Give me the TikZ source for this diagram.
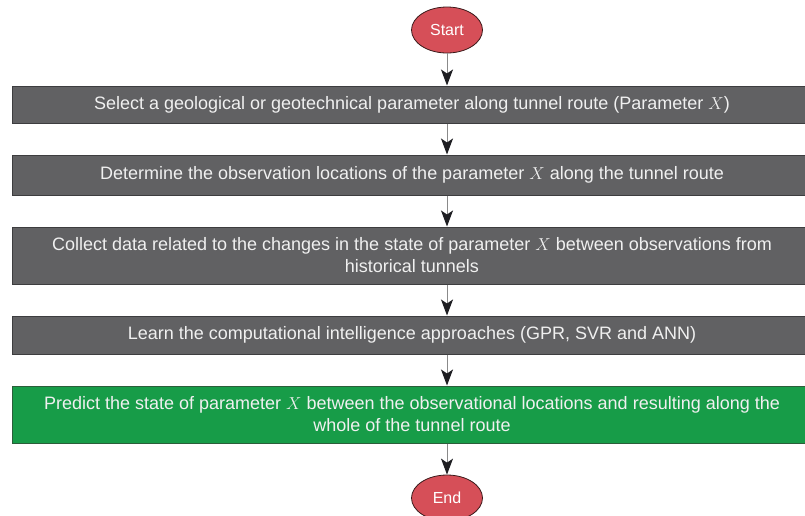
\documentclass[tikz,border=0pt]{standalone}
\usepackage{fontspec}
\setmainfont{Liberation Sans}
\usetikzlibrary{arrows.meta,shapes.geometric}
\definecolor{boxgray}{HTML}{616163}
\definecolor{boxedge}{HTML}{3D3D3F}
\definecolor{boxgreen}{HTML}{179C48}
\definecolor{greenedge}{HTML}{2B5E3A}
\definecolor{termred}{HTML}{D64F58}
\definecolor{termedge}{HTML}{3A1A1A}
\definecolor{linegray}{HTML}{8A8A8A}
\definecolor{tipdark}{HTML}{1E1E22}
\begin{document}
\begin{tikzpicture}[x=1pt,y=-1pt,
		terminal/.style={ellipse,draw=termedge,line width=0.8pt,fill=termred,
			minimum width=71pt,minimum height=46pt,inner sep=0pt,text=white,
			font=\fontsize{16}{20}\selectfont},
		stepbox/.style={rectangle,draw=boxedge,line width=1pt,fill=boxgray,
			minimum width=800pt,inner sep=0pt,text=white!94!black,align=center,
			font=\fontsize{18}{22}\selectfont},
		lastbox/.style={stepbox,draw=greenedge,fill=boxgreen},
		flow/.style={draw=linegray,line width=1pt,
			-{Stealth[length=16pt,width=12pt,inset=4pt,color=tipdark]}}]
		\useasboundingbox (0,0) rectangle (805,515);
		% terminals
		\node[terminal] (start) at (447,30) {Start};
		\node[terminal] (end) at (447,498) {End};
		% process steps
		\node[stepbox,minimum height=37pt] (sel) at (412,104.5)
			{Select a geological or geotechnical parameter along tunnel route (Parameter $X$)};
		\node[stepbox,minimum height=40pt] (obs) at (412,175)
			{Determine the observation locations of the parameter $X$ along the tunnel route};
		\node[stepbox,minimum height=57pt] (col) at (412,255.5)
			{Collect data related to the changes in the state of parameter $X$ between observations from\\historical tunnels};
		\node[stepbox,minimum height=38pt] (lrn) at (412,335)
			{Learn the computational intelligence approaches (GPR, SVR and ANN)};
		\node[lastbox,minimum height=57pt] (pre) at (412,414.5)
			{Predict the state of parameter $X$ between the observational locations and resulting along the\\whole of the tunnel route};
		% connectors
		\draw[flow] (start) -- (start |- sel.north);
		\draw[flow] (sel.south -| start) -- (obs.north -| start);
		\draw[flow] (obs.south -| start) -- (col.north -| start);
		\draw[flow] (col.south -| start) -- (lrn.north -| start);
		\draw[flow] (lrn.south -| start) -- (pre.north -| start);
		\draw[flow] (pre.south -| start) -- (end);
\end{tikzpicture}
\end{document}
